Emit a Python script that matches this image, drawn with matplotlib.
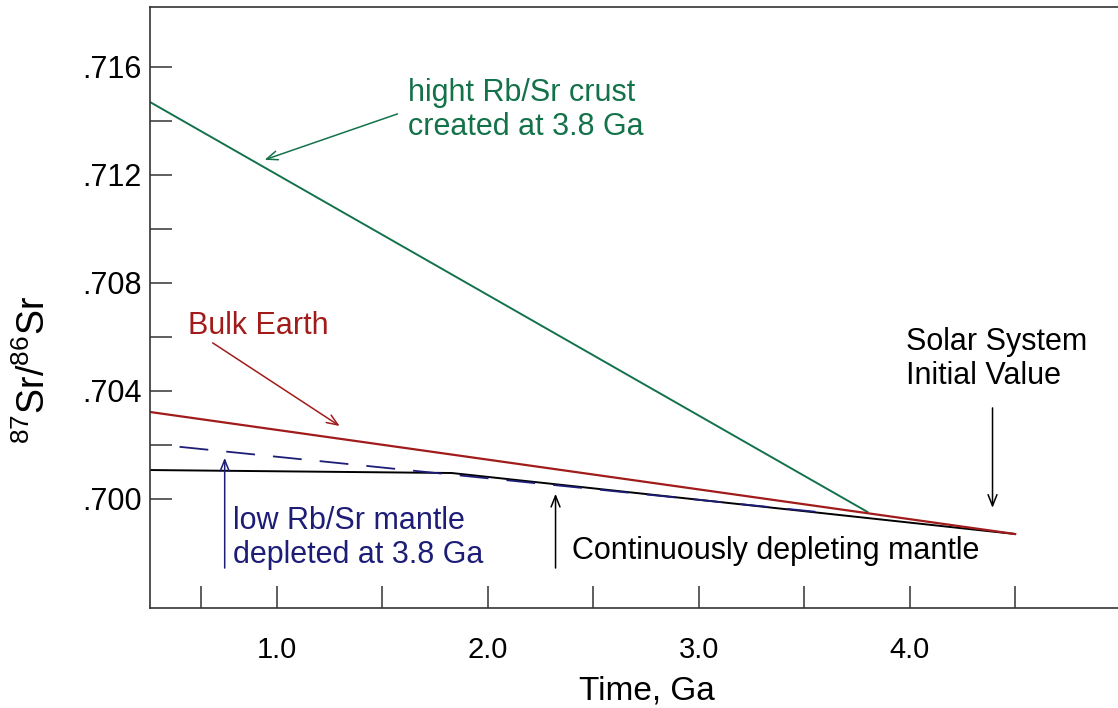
import matplotlib
matplotlib.use("Agg")
import matplotlib.pyplot as plt

plt.rcParams['font.family'] = ['Liberation Sans', 'DejaVu Sans']
plt.rcParams['mathtext.fontset'] = 'custom'
plt.rcParams['mathtext.rm'] = 'Liberation Sans'

# Sr isotope evolution lines (time in Ga, 87Sr/86Sr)
crust_t = [0.4, 3.8]
crust_sr = [0.7147, 0.69952]

bulk_t = [0.4, 4.5]
bulk_sr = [0.70322, 0.69870]

depl_t = [0.4, 1.83, 4.5]
depl_sr = [0.70107, 0.70096, 0.69870]

low_t = [0.54, 3.56]
low_sr = [0.70193, 0.69952]

x_major = [1.0, 2.0, 3.0, 4.0]
x_minor = [0.64, 1.5, 2.5, 3.5, 4.5]
y_major = [0.700, 0.704, 0.708, 0.712, 0.716]
y_minor = [0.702, 0.706, 0.710, 0.714]
y_labels = ['.700', '.704', '.708', '.712', '.716']

green = '#14724a'
red = '#a11b1b'
navy = '#1d1d78'
axcol = '#333333'

fig = plt.figure(figsize=(11.18, 7.08), dpi=100)
ax = fig.add_axes([150/1118, 1 - 608/708, 968/1118, 601/708])

ax.plot(depl_t, depl_sr, color='black', lw=1.4)
ax.plot(low_t, low_sr, color=navy, lw=1.3, linestyle=(0, (16, 10)))
ax.plot(crust_t, crust_sr, color=green, lw=1.4)
ax.plot(bulk_t, bulk_sr, color=red, lw=1.6)

ax.set_xlim(0.4, 0.4 + 968/211)
ax.set_ylim(0.69596, 0.71822)

ax.set_xticks(x_major)
ax.set_xticklabels([f'{v:.1f}' for v in x_major])
ax.set_xticks(x_minor, minor=True)
ax.set_yticks(y_major)
ax.set_yticklabels(y_labels)
ax.set_yticks(y_minor, minor=True)
ax.tick_params(which='both', direction='in', length=16, width=1.1, color=axcol)
ax.tick_params(axis='x', labelsize=21, pad=20)
ax.tick_params(axis='y', labelsize=22, pad=6)

for s in ['left', 'bottom', 'top']:
    ax.spines[s].set_color(axcol)
    ax.spines[s].set_linewidth(1.2)
ax.spines['right'].set_visible(False)

ax.text(0.513, -0.138, 'Time, Ga', transform=ax.transAxes, ha='center', va='center', fontsize=24)
ax.text(-0.12, 0.396, r'$\mathregular{^{87}Sr/^{86}Sr}$', transform=ax.transAxes,
        ha='center', va='center', rotation=90, fontsize=27)

arrow = dict(arrowstyle='->,head_length=0.8,head_width=0.32', shrinkA=0, shrinkB=0, lw=1.1)

ax.annotate('', xy=(0.943, 0.71256), xytext=(1.573, 0.71426), arrowprops=dict(arrow, color=green))
ax.text(1.621, 0.71441, 'hight Rb/Sr crust\ncreated at 3.8 Ga', color=green, fontsize=22,
        ha='left', va='center', linespacing=1.15)

ax.annotate('', xy=(1.299, 0.70270), xytext=(0.697, 0.70578), arrowprops=dict(arrow, color=red))
ax.text(0.578, 0.70641, 'Bulk Earth', color=red, fontsize=22, ha='left', va='center')

ax.annotate('', xy=(0.754, 0.70152), xytext=(0.754, 0.69744), arrowprops=dict(arrow, color=navy))
ax.text(0.791, 0.69856, 'low Rb/Sr mantle\ndepleted at 3.8 Ga', color=navy, fontsize=22,
        ha='left', va='center', linespacing=1.15)

ax.annotate('', xy=(2.322, 0.70019), xytext=(2.322, 0.69744), arrowprops=dict(arrow, color='black'))
ax.text(2.398, 0.69807, 'Continuously depleting mantle', color='black', fontsize=22,
        ha='left', va='center')

ax.annotate('', xy=(4.393, 0.69967), xytext=(4.393, 0.70337), arrowprops=dict(arrow, color='black'))
ax.text(3.981, 0.70519, 'Solar System\nInitial Value', color='black', fontsize=22,
        ha='left', va='center', linespacing=1.15)

fig.savefig('out.png', dpi=100)
